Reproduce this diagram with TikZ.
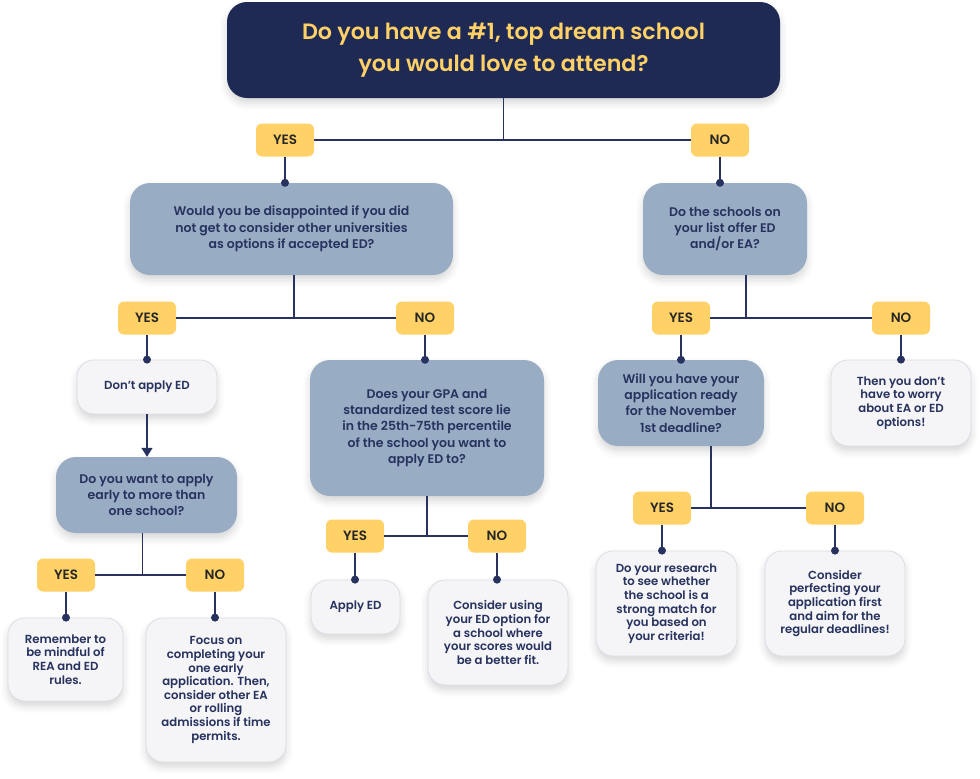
\documentclass[tikz,border=0pt]{standalone}
\usepackage{fontspec}
\setmainfont{Poppins}[BoldFont={Poppins SemiBold}]
\usetikzlibrary{arrows.meta, positioning, shadows.blur}
\definecolor{navy}{RGB}{30,42,84}
\definecolor{slate}{RGB}{152,172,196}
\definecolor{ink}{RGB}{39,51,94}
\definecolor{paper}{RGB}{245,245,247}
\definecolor{rim}{RGB}{220,221,229}
\definecolor{gold}{RGB}{255,209,102}

\begin{document}
\begin{tikzpicture}[x=1pt, y=-1pt,
  softshadow/.style={blur shadow={shadow xshift=0pt, shadow yshift=-5pt, shadow blur radius=7pt, shadow opacity=16}},
  qbox/.style={fill=slate, rounded corners=20pt, text=ink, align=center, inner sep=0pt,
    font=\bfseries\fontsize{12.5}{16.3}\selectfont, softshadow},
  abox/.style={fill=paper, draw=rim, line width=0.8pt, rounded corners=17pt, text=ink, align=center, inner sep=0pt,
    font=\bfseries\fontsize{11.7}{13.6}\selectfont, softshadow},
  tag/.style={fill=gold, rounded corners=6pt, minimum width=58pt, minimum height=33pt, inner sep=0pt,
    text=black!85, font=\bfseries\fontsize{13.5}{14}\selectfont},
  link/.style={draw=ink, line width=1.6pt},
  dot/.style={circle, fill=ink, inner sep=0pt, minimum size=8pt}]
  \useasboundingbox (0,0) rectangle (980,779);

  % top question
  \node[fill=navy, rounded corners=20pt, minimum width=553pt, minimum height=96pt, text=gold, align=center,
    font=\bfseries\fontsize{22.2}{31.5}\selectfont, softshadow] (title) at (503.5,50)
    {Do you have a \#1, top dream school\\you would love to attend?};

  % answer tags
  \node[tag] (yes1) at (285,140) {YES};
  \node[tag] (no1) at (720,140) {NO};
  \node[tag] (yes2) at (147,318) {YES};
  \node[tag] (no2) at (425,318) {NO};
  \node[tag] (yes3) at (66,575) {YES};
  \node[tag] (no3) at (215,575) {NO};
  \node[tag] (yes4) at (355,536) {YES};
  \node[tag] (no4) at (497,536) {NO};
  \node[tag] (yes5) at (681,318) {YES};
  \node[tag] (no5) at (901,318) {NO};
  \node[tag] (yes6) at (662,508) {YES};
  \node[tag] (no6) at (835,508) {NO};

  % questions
  \node[qbox, minimum width=323pt, minimum height=92pt] (q2) at (291.5,229)
    {Would you be disappointed if you did\\not get to consider other universities\\as options if accepted ED?};
  \node[qbox, minimum width=164pt, minimum height=92pt] (q5) at (725,229)
    {Do the schools on\\your list offer ED\\and/or EA?};
  \node[qbox, minimum width=181pt, minimum height=76pt] (q3) at (146.5,495)
    {Do you want to apply\\early to more than\\one school?};
  \node[qbox, minimum width=234pt, minimum height=136pt] (q4) at (427,428)
    {Does your GPA and\\standardized test score lie\\in the 25th-75th percentile\\of the school you want to\\apply ED to?};
  \node[qbox, minimum width=166pt, minimum height=86pt] (q6) at (681,403)
    {Will you have your\\application ready\\for the November\\1st deadline?};

  % outcomes
  \node[abox, minimum width=140pt, minimum height=54pt] (noed) at (147,387) {Don't apply ED};
  \node[abox, minimum width=115pt, minimum height=83pt] (rea) at (65.5,659.5)
    {Remember to\\be mindful of\\REA and ED\\rules.};
  \node[abox, minimum width=140pt, minimum height=144pt] (focus) at (216,690)
    {Focus on\\completing your\\one early\\application. Then,\\consider other EA\\or rolling\\admissions if time\\permits.};
  \node[abox, minimum width=89pt, minimum height=54pt] (applyed) at (355.5,607) {Apply ED};
  \node[abox, minimum width=140pt, minimum height=105pt] (consider) at (498,632.5)
    {Consider using\\your ED option for\\a school where\\your scores would\\be a better fit.};
  \node[abox, minimum width=140pt, minimum height=86pt] (thennot) at (901,403)
    {Then you don't\\have to worry\\about EA or ED\\options!};
  \node[abox, minimum width=141pt, minimum height=105pt] (research) at (666.5,603.5)
    {Do your research\\to see whether\\the school is a\\strong match for\\you based on\\your criteria!};
  \node[abox, minimum width=140pt, minimum height=105pt] (perfect) at (835,603.5)
    {Consider\\perfecting your\\application first\\and aim for the\\regular deadlines!};

  % branches
  \draw[link] (title.south) -- (title.south |- yes1);
  \draw[link] (yes1.east) -- (no1.west);
  \draw[link] ([xshift=2.5pt]q2.south) -- ([xshift=2.5pt]q2.south |- yes2);
  \draw[link] (yes2.east) -- (no2.west);
  \draw[link] ([xshift=21pt]q5.south) -- ([xshift=21pt]q5.south |- yes5);
  \draw[link] (yes5.east) -- (no5.west);
  \draw[link] ([xshift=-4pt]q3.south) -- ([xshift=-4pt]q3.south |- yes3);
  \draw[link] (yes3.east) -- (no3.west);
  \draw[link] (q4.south) -- (q4.south |- yes4);
  \draw[link] (yes4.east) -- (no4.west);
  \draw[link] ([xshift=30pt]q6.south) -- ([xshift=30pt]q6.south |- yes6);
  \draw[link] (yes6.east) -- (no6.west);

  % drops to the next box
  \draw[link] (yes1.south) -- (yes1.south |- q2.north) node[dot] (d1) {};
  \draw[link] (no1.south) -- (no1.south |- q5.north) node[dot] (d2) {};
  \draw[link] (yes2.south) -- (yes2.south |- noed.north) node[dot] (d3) {};
  \draw[link] (no2.south) -- (no2.south |- q4.north) node[dot] (d4) {};
  \draw[link, -{Triangle[width=11pt, length=9pt]}] (noed.south) -- (noed.south |- q3.north);
  \draw[link] (yes3.south) -- (yes3.south |- rea.north) node[dot] (d5) {};
  \draw[link] (no3.south) -- (no3.south |- focus.north) node[dot] (d6) {};
  \draw[link] (yes4.south) -- (yes4.south |- applyed.north) node[dot] (d7) {};
  \draw[link] (no4.south) -- (no4.south |- consider.north) node[dot] (d8) {};
  \draw[link] (yes5.south) -- (yes5.south |- q6.north) node[dot] (d9) {};
  \draw[link] (no5.south) -- (no5.south |- thennot.north) node[dot] (d10) {};
  \draw[link] (yes6.south) -- (yes6.south |- research.north) node[dot] (d11) {};
  \draw[link] (no6.south) -- (no6.south |- perfect.north) node[dot] (d12) {};
\end{tikzpicture}
\end{document}
